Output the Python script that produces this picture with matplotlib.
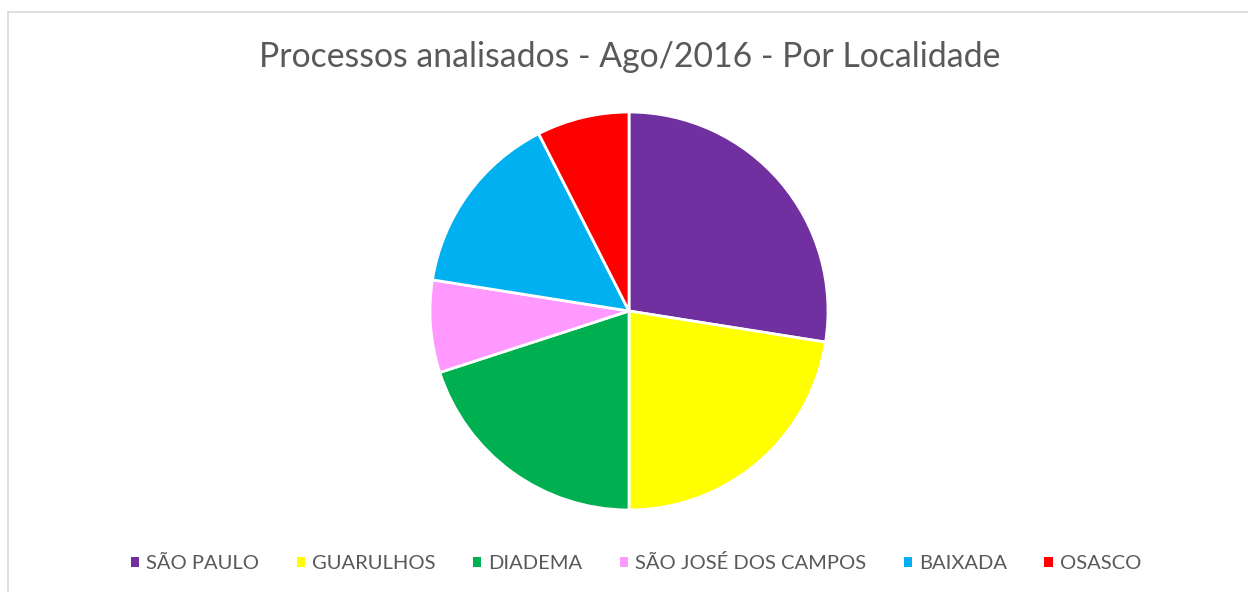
import matplotlib.pyplot as plt
from matplotlib.lines import Line2D
from matplotlib.patches import Patch

# data
labels = ["SÃO PAULO", "GUARULHOS", "DIADEMA", "SÃO JOSÉ DOS CAMPOS", "BAIXADA", "OSASCO"]
values = [11, 9, 8, 3, 6, 3]
colors = ["#7030A0", "#FFFF00", "#00B050", "#FF99FF", "#00B0F0", "#FF0000"]
title = "Processos analisados - Ago/2016 - Por Localidade"

plt.rcParams["font.family"] = ["Lato", "DejaVu Sans"]
textColor = "#595959"

W, H = 1248, 592
fig = plt.figure(figsize=(W / 100, H / 100), dpi=100)

# chart border (only top and left visible in the crop)
fig.add_artist(Line2D([8 / W, 8 / W], [0, 1 - 12 / H], color="#D9D9D9", lw=1.2, transform=fig.transFigure))
fig.add_artist(Line2D([8 / W, 1], [1 - 12 / H, 1 - 12 / H], color="#D9D9D9", lw=1.2, transform=fig.transFigure))

# pie axes placed by pixel centre / radius
cx, cy, r = 629, 311, 199
ax = fig.add_axes([(cx - r) / W, (H - cy - r) / H, 2 * r / W, 2 * r / H])
ax.pie(values, colors=colors, startangle=90, counterclock=False,
       wedgeprops=dict(edgecolor="white", linewidth=2))
ax.set_xlim(-1, 1)
ax.set_ylim(-1, 1)

fig.text(630 / W, 1 - 57 / H, title, ha="center", va="center", fontsize=24.3, color=textColor)

handles = [Patch(facecolor=c, edgecolor="none") for c in colors]
fig.legend(handles, labels, loc="center", bbox_to_anchor=(636 / W, 1 - 563 / H), ncol=6,
           frameon=False, fontsize=14.5, labelcolor=textColor, handlelength=0.42, handleheight=0.42,
           handletextpad=0.35, columnspacing=1.85)

fig.savefig("out.png", dpi=100)
